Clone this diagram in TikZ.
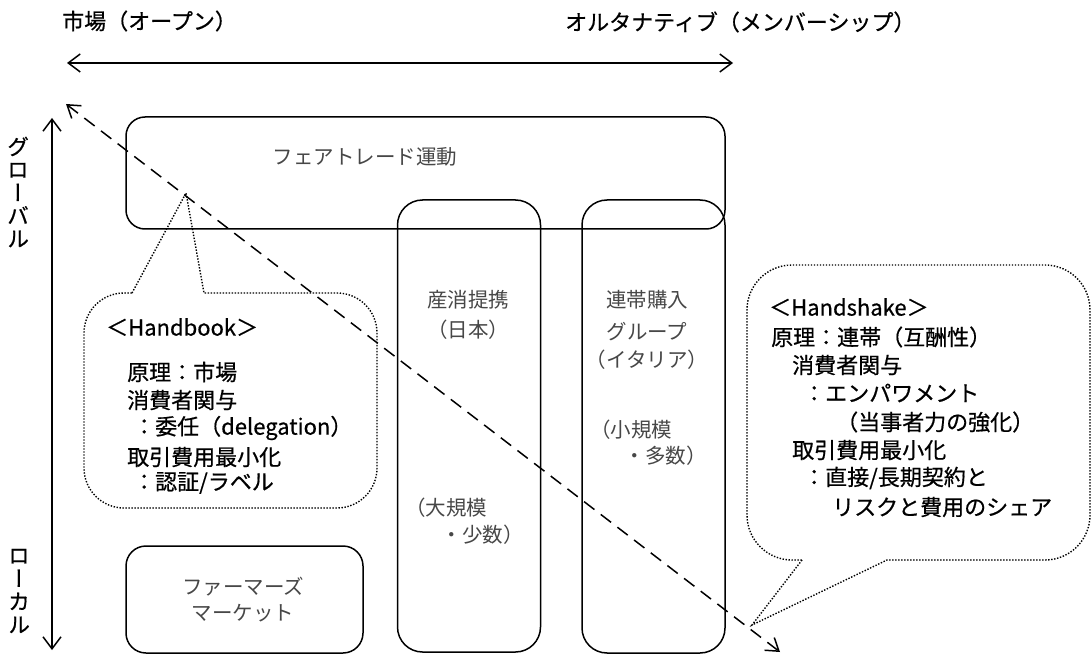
\documentclass[tikz,border=0pt]{standalone}
\usepackage{fontspec}
\setmainfont{Noto Sans CJK JP}
\newfontfamily\gothic[FakeBold=0.6]{Noto Sans CJK JP}
\newfontfamily\vertfont[RawFeature=+vert,FakeBold=0.6]{Noto Sans CJK JP}
\usetikzlibrary{arrows.meta}
\begin{document}
\begin{tikzpicture}[x=1pt,y=-1pt,
  box/.style={draw, line width=1.5pt, rectangle, inner sep=0pt, outer sep=0pt},
  lbl/.style={font=\fontsize{20.5}{24}\selectfont, text=black!72, inner sep=0pt},
  ctext/.style={font=\gothic\fontsize{22}{26}\selectfont, inner sep=0pt, anchor=west},
  vlab/.style={font=\vertfont\fontsize{22}{23}\selectfont, inner sep=0pt, align=center},
  axisarrow/.style={line width=1.5pt, {Straight Barb[length=12pt,width=18pt]}-{Straight Barb[length=12pt,width=18pt]}},
  diag/.style={line width=1.5pt, dash pattern=on 13pt off 8pt, {Straight Barb[length=12pt,width=16pt]}-{Straight Barb[length=12pt,width=16pt]}},
  callout/.style={line width=1.4pt, dash pattern=on 1.4pt off 1.6pt}
]
\useasboundingbox (0,0) rectangle (1092,660);

% axes
\coordinate (hl) at (67,63);
\coordinate (hr) at (733,63);
\coordinate (vt) at (52,118);
\coordinate (vb) at (52,650);
\draw[axisarrow] (hl) -- (hr);
\draw[axisarrow] (vt) -- (vb);

\node[ctext] (open) at (62,21) {市場（オープン）};
\node[ctext] (alt) at (565,22) {オルタナティブ（メンバーシップ）};
\node[vlab] (glob) at (18,192) {グ\\ロ\\ー\\バ\\ル};
\node[vlab] (loc) at (19,591) {ロ\\ー\\カ\\ル};

% boxes
\node[box, rounded corners=19pt, minimum width=599pt, minimum height=112pt] (ft) at (425.5,173) {};
\node[box, rounded corners=25pt, minimum width=143pt, minimum height=452pt] (sanshou) at (469,426) {};
\node[box, rounded corners=25pt, minimum width=143pt, minimum height=453pt] (rentai) at (653.5,426.5) {};
\node[box, rounded corners=20pt, minimum width=237pt, minimum height=107pt] (fm) at (244.5,599.5) {};

% box labels
\node[lbl] (ftl) at (365,157) {フェアトレード運動};
\node[lbl] (s1) at (468,300) {産消提携};
\node[lbl] (s2) at (468,330) {（日本）};
\node[lbl, anchor=west] (s3) at (405,508) {（大規模};
\node[lbl, anchor=east] (s4) at (524,535) {・少数）};
\node[lbl] (r1) at (647,300) {連帯購入};
\node[lbl] (r2) at (647,332) {グループ};
\node[lbl] (r3) at (647,360) {（イタリア）};
\node[lbl, anchor=west] (r4) at (590,430) {（小規模};
\node[lbl, anchor=east] (r5) at (707,456) {・多数）};
\node[lbl] (fm1) at (243,587) {ファーマーズ};
\node[lbl] (fm2) at (243,613) {マーケット};

% left callout (Handbook)
\draw[callout] (132,293) -- (186,193) -- (204,293) -- (337,293)
  arc[start angle=-90, end angle=0, radius=40] -- (377,468)
  arc[start angle=0, end angle=90, radius=40] -- (124,508)
  arc[start angle=90, end angle=180, radius=40] -- (84,333)
  arc[start angle=180, end angle=270, radius=40] -- cycle;
\node[ctext] (hb0) at (106,327) {＜Handbook＞};
\node[ctext] (hb1) at (127,372) {原理：市場};
\node[ctext] (hb2) at (127,400) {消費者関与};
\node[ctext] (hb3) at (133,428) {：委任（delegation）};
\node[ctext] (hb4) at (127,457) {取引費用最小化};
\node[ctext] (hb5) at (133,483) {：認証/ラベル};

% right callout (Handshake)
\draw[callout] (802,560) -- (752,625) -- (887,560) -- (1045,560)
  arc[start angle=90, end angle=0, radius=45] -- (1090,310)
  arc[start angle=0, end angle=-90, radius=45] -- (792,265)
  arc[start angle=270, end angle=180, radius=45] -- (747,515)
  arc[start angle=180, end angle=90, radius=45] -- cycle;
\node[ctext] (hs0) at (769,307) {＜Handshake＞};
\node[ctext] (hs1) at (771,337) {原理：連帯（互酬性）};
\node[ctext] (hs2) at (792,365) {消費者関与};
\node[ctext] (hs3) at (803,393) {：エンパワメント};
\node[ctext] (hs4) at (836,422) {（当事者力の強化）};
\node[ctext] (hs5) at (792,450) {取引費用最小化};
\node[ctext] (hs6) at (803,478) {：直接/長期契約と};
\node[ctext] (hs7) at (832,507) {リスクと費用のシェア};

% diagonal
\coordinate (dtl) at (66,104);
\coordinate (dbr) at (780,652);
\draw[diag] (dtl) -- (dbr);
\end{tikzpicture}
\end{document}
